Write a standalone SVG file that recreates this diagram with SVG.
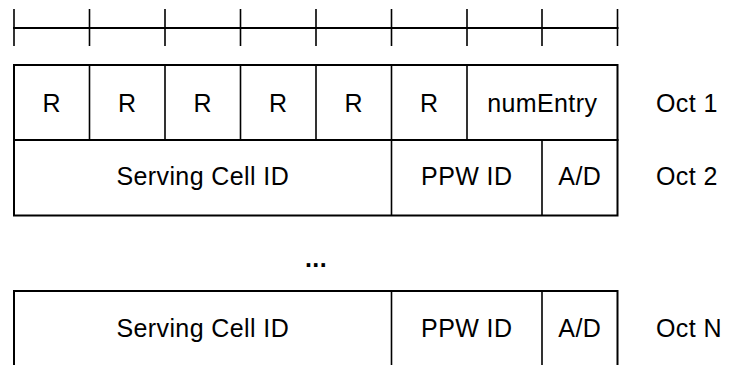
<svg xmlns="http://www.w3.org/2000/svg" width="730" height="365" viewBox="0 0 730 365">
<style>
.ln{stroke:#000;stroke-width:2;fill:none;stroke-linecap:square}
.in{stroke:#000;stroke-width:1.6;fill:none}
text{font-family:"Liberation Sans",Arial,sans-serif;font-size:25px;letter-spacing:0.4px;fill:#000}
.c{text-anchor:middle}
</style>
<rect width="730" height="365" fill="#fff"/>
<g id="ruler">
<line class="ln" x1="14" y1="28" x2="617.5" y2="28"/>
<path class="in" d="M14 9V46M89.5 9V46M165 9V46M240.5 9V46M316 9V46M391.5 9V46M467 9V46M542 9V46M617.5 9V46"/>
</g>
<g id="oct1">
<rect class="ln" x="14" y="65" width="603.5" height="75"/>
<path class="in" d="M89.5 65V140M165 65V140M240.5 65V140M316 65V140M391.5 65V140M467 65V140"/>
<text class="c" x="51.75" y="112">R</text>
<text class="c" x="127.25" y="112">R</text>
<text class="c" x="202.75" y="112">R</text>
<text class="c" x="278.25" y="112">R</text>
<text class="c" x="353.75" y="112">R</text>
<text class="c" x="429.25" y="112">R</text>
<text class="c" x="542.25" y="112">numEntry</text>
<text x="656" y="112">Oct 1</text>
</g>
<g id="oct2">
<path class="ln" d="M14 140V215.5H617.5V140"/>
<path class="in" d="M391.5 140V215.5M542 140V215.5"/>
<text class="c" x="202.75" y="185">Serving Cell ID</text>
<text class="c" x="466.75" y="185">PPW ID</text>
<text class="c" x="579.75" y="185">A/D</text>
<text x="656" y="185">Oct 2</text>
</g>
<g id="dots">
<text class="c" x="316" y="267" font-weight="bold">...</text>
</g>
<g id="octN">
<path class="ln" d="M14 366V291H617.5V366"/>
<path class="in" d="M391.5 291V366M542 291V366"/>
<text class="c" x="202.75" y="337">Serving Cell ID</text>
<text class="c" x="466.75" y="337">PPW ID</text>
<text class="c" x="579.75" y="337">A/D</text>
<text x="656" y="337">Oct N</text>
</g>
<g id="connectors"></g>
</svg>
